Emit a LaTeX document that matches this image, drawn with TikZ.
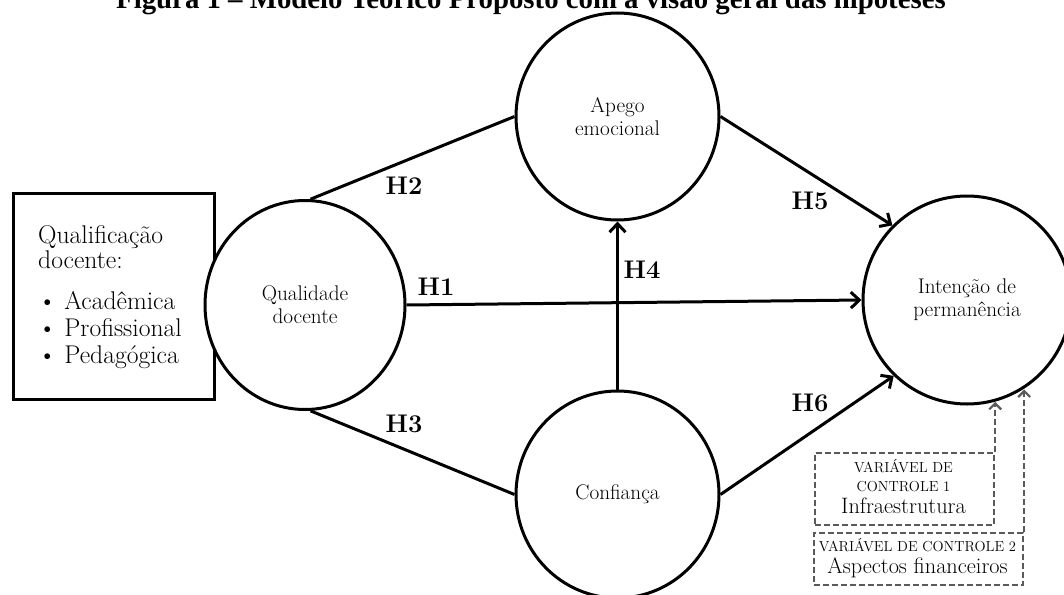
\documentclass[tikz,border=0pt]{standalone}
\usepackage{fontspec}
\newfontfamily\titlefont{Liberation Serif}
\usetikzlibrary{arrows.meta,shapes.geometric}
\definecolor{ctrlgray}{RGB}{90,90,90}
\begin{document}
\begin{tikzpicture}[x=1pt,y=-1pt,
  construct/.style={ellipse, draw, line width=3pt, fill=white, inner sep=0pt,
    align=center, font=\fontsize{21.2}{23}\selectfont},
  hyp/.style={font=\bfseries\fontsize{25.5}{25.5}\selectfont, inner sep=0pt},
  conn/.style={line width=3pt},
  arr/.style={conn, -{Straight Barb[length=8.5pt,width=16pt]}},
  ctrlbox/.style={draw=ctrlgray, line width=2.2pt, dash pattern=on 6pt off 3pt, inner sep=0pt},
  ctrlarr/.style={draw=ctrlgray, line width=2.2pt, dash pattern=on 6pt off 3pt,
    -{Straight Barb[length=6pt,width=12pt]}},
  boxtxt/.style={inner sep=0pt, anchor=base west, font=\fontsize{25.6}{26}\selectfont},
  ctrlsmall/.style={inner sep=0pt, anchor=base, font=\fontsize{14.5}{14.5}\selectfont},
  ctrlbig/.style={inner sep=0pt, anchor=base, font=\fontsize{22.3}{22.3}\selectfont}
]
\useasboundingbox (0,0) rectangle (1064,594);

% partially visible title (cut at the top edge, as in the reference)
\node[anchor=base, inner sep=0pt, font=\titlefont\bfseries\fontsize{28.8}{28.8}\selectfont] (title) at (531,9)
  {Figura 1 – Modelo Teórico Proposto com a visão geral das hipóteses};

% qualification box
\node[draw, line width=3pt, minimum width=201pt, minimum height=206pt, inner sep=0pt,
  anchor=north west] (qual) at (12,192) {};
\node[boxtxt] (q1) at (38,243) {Qualificação};
\node[boxtxt] (q2) at (38,268) {docente:};
\node[boxtxt] (q3) at (38,309) {• Acadêmica};
\node[boxtxt] (q4) at (38,336) {• Profissional};
\node[boxtxt] (q5) at (38,363) {• Pedagógica};

% constructs
\node[construct, minimum width=200pt, minimum height=209pt] (qd) at (305,305) {Qualidade\\docente};
\node[construct, minimum width=203pt, minimum height=207pt] (ap) at (617.5,116.5) {Apego\\emocional};
\node[construct, minimum width=203pt, minimum height=207pt] (cf) at (617.5,494.5) {Confiança};
\node[construct, minimum width=208pt, minimum height=208pt] (int) at (967,300) {Intenção de\\permanência};

% connectors
\draw[conn] (qd.87) -- (ap.180);
\draw[conn] (qd.-87) -- (cf.180);
\draw[arr] (qd.east) -- (int.west);
\draw[arr] (cf.north) -- (ap.south);
\draw[arr] (ap.0) -- (int.135);
\draw[arr] (cf.0) -- (int.226);

% hypothesis labels
\node[hyp] (h1) at (436,287) {H1};
\node[hyp] (h2) at (404,186) {H2};
\node[hyp] (h3) at (404,424) {H3};
\node[hyp] (h4) at (642,270) {H4};
\node[hyp] (h5) at (810,201) {H5};
\node[hyp] (h6) at (810,403) {H6};

% control variables
\node[ctrlbox, minimum width=179pt, minimum height=72pt, anchor=north west] (b1) at (814,452) {};
\node[ctrlbox, minimum width=209pt, minimum height=52pt, anchor=north west] (b2) at (813,532) {};
\node[ctrlsmall] (c1a) at (903.5,472) {VARIÁVEL DE};
\node[ctrlsmall] (c1b) at (903.5,491) {CONTROLE 1};
\node[ctrlbig] (c1c) at (903.5,513) {Infraestrutura};
\node[ctrlsmall] (c2a) at (917.5,551) {VARIÁVEL DE CONTROLE 2};
\node[ctrlbig] (c2b) at (917.5,573) {Aspectos financeiros};

\coordinate (t1) at (int.-75.5);
\coordinate (t2) at (int.-58.7);
\draw[ctrlarr] (b1.north east) -- (b1.north east |- t1);
\draw[ctrlarr] (b2.north east) -- (b2.north east |- t2);
\end{tikzpicture}
\end{document}
